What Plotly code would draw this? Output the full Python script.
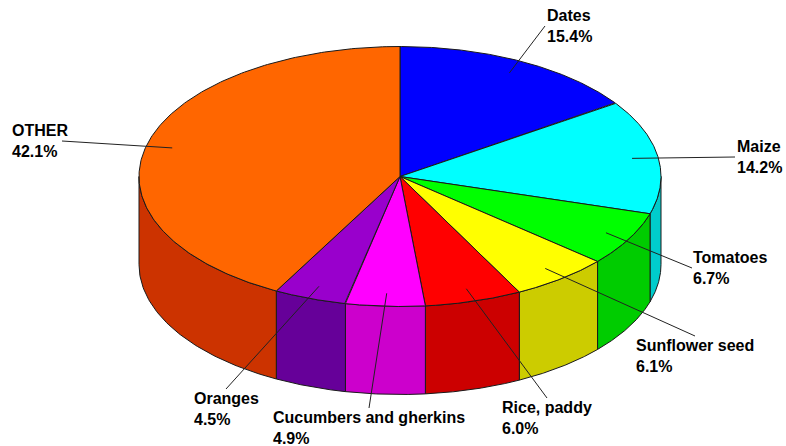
import numpy as np
import plotly.graph_objects as go

# Crop shares (% of total harvested area)
labels = ["Dates", "Maize", "Tomatoes", "Sunflower seed", "Rice, paddy",
          "Cucumbers and gherkins", "Oranges", "OTHER"]
shares = [15.4, 14.2, 6.7, 6.1, 6.0, 4.9, 4.5, 42.1]

top_colors = ["#0000FF", "#00FFFF", "#00FF00", "#FFFF00", "#FF0000",
              "#FF00FF", "#9900CC", "#FF6600"]
side_colors = ["#0000CC", "#00CCCC", "#00CC00", "#CCCC00", "#CC0000",
               "#CC00CC", "#660099", "#CC3300"]

# Label placement: (x, y, xanchor, yanchor, xshift) — leader ends at (x, y)
label_pos = [
    (545, 26, "left", "middle", 1),
    (735, 157, "left", "middle", 1),
    (692, 268, "left", "middle", 0),
    (695, 336, "center", "top", 0),
    (547, 398, "center", "top", 0),
    (369, 408, "center", "top", 0),
    (226, 389, "center", "top", 0),
    (62, 141, "right", "middle", 7),
]

W, H = 786, 446
CX, CY = 400.0, 176.5      # centre of the top ellipse
RX, RY = 261.0, 130.0      # ellipse radii
DEPTH = 88.0               # thickness of the disc
EDGE = "#1a1a1a"


def rim(theta_deg, r=1.0, dz=0.0):
    """Point on the disc, angle measured clockwise from 12 o'clock."""
    t = np.radians(theta_deg)
    return CX + r * RX * np.sin(t), CY - r * RY * np.cos(t) + dz


total = sum(shares)
bounds = np.concatenate([[0.0], np.cumsum(shares) / total * 360.0])

fig = go.Figure()

# Side walls (only the front half of the disc is visible)
for i in range(len(shares)):
    t0, t1 = max(bounds[i], 90.0), min(bounds[i + 1], 270.0)
    if t1 <= t0:
        continue
    th = np.linspace(t0, t1, 80)
    xt, yt = rim(th)
    xb, yb = rim(th[::-1], dz=DEPTH)
    fig.add_trace(go.Scatter(
        x=np.concatenate([xt, xb, xt[:1]]), y=np.concatenate([yt, yb, yt[:1]]),
        mode="lines", fill="toself", fillcolor=side_colors[i],
        line=dict(color=EDGE, width=1), hoverinfo="skip", showlegend=False))

# Top face slices
for i in range(len(shares)):
    th = np.linspace(bounds[i], bounds[i + 1], 200)
    xs, ys = rim(th)
    fig.add_trace(go.Scatter(
        x=np.concatenate([[CX], xs, [CX]]), y=np.concatenate([[CY], ys, [CY]]),
        mode="lines", fill="toself", fillcolor=top_colors[i],
        line=dict(color=EDGE, width=1), hoverinfo="skip", showlegend=False))

# Leader lines and labels
for i, (lab, v) in enumerate(zip(labels, shares)):
    mid = (bounds[i] + bounds[i + 1]) / 2.0
    sx, sy = rim(mid, r=0.9)
    ex, ey, xa, ya, shift = label_pos[i]
    fig.add_trace(go.Scatter(
        x=[sx, ex], y=[sy, ey], mode="lines",
        line=dict(color="#222222", width=1), hoverinfo="skip", showlegend=False))
    fig.add_annotation(
        x=ex, y=ey, xref="x", yref="y", xshift=shift,
        text=f"<b>{lab}</b><br><b>{v:.1f}%</b>",
        showarrow=False, xanchor=xa, yanchor=ya, align="left",
        font=dict(family="Liberation Sans, Arial, sans-serif", size=16, color="black"),
        borderpad=0)

fig.update_layout(
    width=W, height=H, margin=dict(l=0, r=0, t=0, b=0),
    paper_bgcolor="white", plot_bgcolor="white",
    xaxis=dict(range=[0, W], visible=False, fixedrange=True),
    yaxis=dict(range=[H, 0], visible=False, fixedrange=True),
    font=dict(family="Liberation Sans, Arial, sans-serif"),
)

fig.write_html("out.html")
